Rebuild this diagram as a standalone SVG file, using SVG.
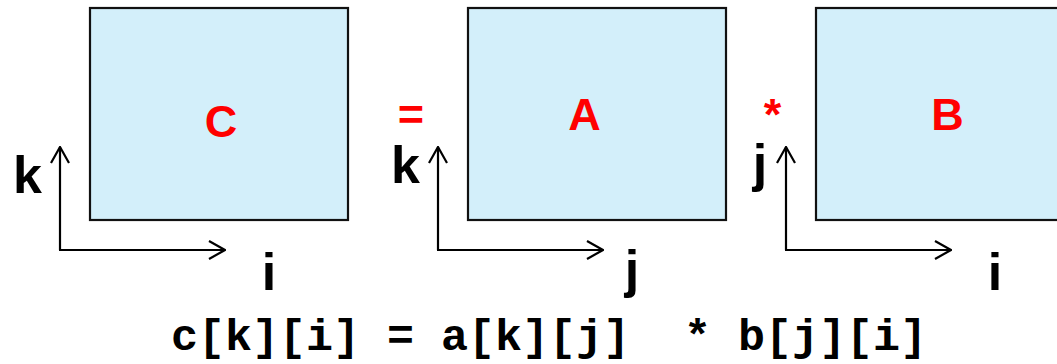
<svg xmlns="http://www.w3.org/2000/svg" width="1057" height="364" viewBox="0 0 1057 364">
<style>
.box{fill:#D3EFFA;stroke:#111;stroke-width:2.2}
.ax{fill:none;stroke:#000;stroke-width:2.2;marker-end:url(#chev)}
.lab{font-family:"Liberation Sans",Arial,sans-serif;font-weight:bold;font-size:52px;fill:#000;text-anchor:middle}
.mat{font-family:"Liberation Sans",Arial,sans-serif;font-weight:bold;font-size:45px;fill:#FF0000;text-anchor:middle}
.code{font-family:"Liberation Mono","Courier New",monospace;font-weight:bold;font-size:45px;fill:#000}
</style>
<defs>
<marker id="chev" viewBox="0 0 18 20" refX="17" refY="10" markerWidth="18" markerHeight="20" markerUnits="userSpaceOnUse" orient="auto">
<path d="M1,1 L17,10 L1,19" fill="none" stroke="#000" stroke-width="2.2"/>
</marker>
</defs>
<g id="matrixC">
<rect class="box" x="90" y="8" width="258" height="212"/>
<text class="mat" x="221" y="137">C</text>
</g>
<g id="matrixA">
<rect class="box" x="468" y="8" width="258" height="212"/>
<text class="mat" x="584.5" y="130">A</text>
</g>
<g id="matrixB">
<rect class="box" x="816" y="8" width="258" height="212"/>
<text class="mat" x="947.5" y="130">B</text>
</g>
<g id="operators">
<text class="mat" x="411" y="130">=</text>
<text class="mat" x="772.5" y="130">*</text>
</g>
<g id="connectors">
<path class="ax" d="M60,250 V147"/>
<path class="ax" d="M59,250 H225"/>
<path class="ax" d="M438,250 V147"/>
<path class="ax" d="M437,250 H603"/>
<path class="ax" d="M786,250 V147"/>
<path class="ax" d="M785,250 H951"/>
</g>
<g id="axisLabels">
<text class="lab" x="27.5" y="193">k</text>
<text class="lab" x="269" y="290">i</text>
<text class="lab" x="405.5" y="183">k</text>
<text class="lab" x="632" y="287">j</text>
<text class="lab" x="760" y="181">j</text>
<text class="lab" x="995" y="290">i</text>
</g>
<g id="formula">
<text class="code" x="171" y="350" xml:space="preserve">c[k][i] = a[k][j]  * b[j][i]</text>
</g>
</svg>
